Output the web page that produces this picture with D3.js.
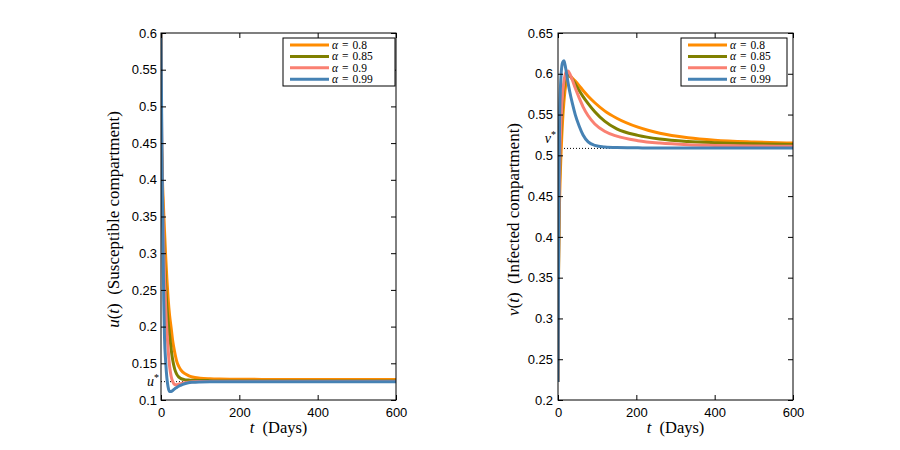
<!DOCTYPE html>
<html><head><meta charset="utf-8">
<script src="https://cdn.jsdelivr.net/npm/d3@7"></script>
<style>body{margin:0;background:#fff} svg{display:block}</style>
</head><body><svg id="c" width="900" height="450"></svg>
<script>
// ---------- data ----------
const alphaLabels = ["0.8", "0.85", "0.9", "0.99"];
const seriesColors = ["#ff8c00", "#808000", "#fa8072", "#4682b4"];
const xTicks = [0, 200, 400, 600];
const uTicks = [0.1, 0.15, 0.2, 0.25, 0.3, 0.35, 0.4, 0.45, 0.5, 0.55, 0.6];
const vTicks = [0.2, 0.25, 0.3, 0.35, 0.4, 0.45, 0.5, 0.55, 0.6, 0.65];
const uStar = 0.125;
const vStar = 0.5085;

// susceptible compartment u(t)
const tU = [0, 1, 2, 3, 4, 5, 7, 9, 12, 15, 18, 22, 26, 30, 35, 40, 45, 50, 60, 70, 80, 100, 125, 150, 200, 300, 400, 500, 600];
const uAlpha080 = [0.6, 0.46, 0.43, 0.41, 0.395, 0.38, 0.355, 0.33, 0.295, 0.265, 0.24, 0.215, 0.198, 0.18, 0.165, 0.153, 0.146, 0.1415, 0.1362, 0.1333, 0.1314, 0.1298, 0.129, 0.1286, 0.1283, 0.128, 0.1279, 0.1278, 0.1278];
const uAlpha085 = [0.6, 0.47, 0.43, 0.4, 0.375, 0.355, 0.32, 0.29, 0.255, 0.228, 0.208, 0.188, 0.169, 0.154, 0.142, 0.1352, 0.1315, 0.1295, 0.1278, 0.1272, 0.1268, 0.1265, 0.1264, 0.1263, 0.1263, 0.1262, 0.1262, 0.1262, 0.1262];
const uAlpha090 = [0.6, 0.5, 0.45, 0.41, 0.38, 0.355, 0.31, 0.27, 0.225, 0.195, 0.17, 0.146, 0.132, 0.125, 0.1212, 0.1208, 0.1215, 0.1222, 0.1235, 0.1243, 0.1248, 0.1252, 0.1254, 0.1255, 0.1256, 0.1256, 0.1256, 0.1256, 0.1256];
const uAlpha099 = [0.6, 0.53, 0.47, 0.41, 0.36, 0.32, 0.235, 0.185, 0.152, 0.13, 0.118, 0.1115, 0.1115, 0.113, 0.1152, 0.117, 0.1187, 0.12, 0.1222, 0.1235, 0.1241, 0.1246, 0.1248, 0.1248, 0.1248, 0.1248, 0.1248, 0.1248, 0.1248];

// infected compartment v(t)
const tV = [0, 1, 2, 3, 4, 6, 8, 10, 12, 15, 18, 22, 26, 30, 37, 44, 54, 64, 77, 94, 119, 150, 204, 260, 332, 400, 500, 600];
const vAlpha080 = [0.222, 0.33, 0.38, 0.42, 0.445, 0.48, 0.505, 0.527, 0.545, 0.565, 0.58, 0.592, 0.598, 0.5975, 0.5945, 0.591, 0.5855, 0.5795, 0.5725, 0.5645, 0.5545, 0.5455, 0.5345, 0.527, 0.5215, 0.5185, 0.5163, 0.515];
const vAlpha085 = [0.222, 0.34, 0.4, 0.44, 0.47, 0.51, 0.535, 0.553, 0.567, 0.583, 0.594, 0.6, 0.5995, 0.5975, 0.593, 0.5875, 0.5795, 0.572, 0.5635, 0.5535, 0.542, 0.5325, 0.5245, 0.52, 0.517, 0.5155, 0.5142, 0.5134];
const vAlpha090 = [0.222, 0.35, 0.41, 0.45, 0.48, 0.52, 0.545, 0.562, 0.575, 0.59, 0.598, 0.603, 0.6035, 0.6, 0.592, 0.5825, 0.5705, 0.5595, 0.5485, 0.5385, 0.5295, 0.5235, 0.518, 0.515, 0.513, 0.5122, 0.5115, 0.511];
const vAlpha099 = [0.222, 0.33, 0.42, 0.49, 0.54, 0.58, 0.6, 0.61, 0.614, 0.616, 0.611, 0.6, 0.588, 0.578, 0.563, 0.55, 0.536, 0.525, 0.5165, 0.5122, 0.5102, 0.5095, 0.5092, 0.509, 0.509, 0.509, 0.509, 0.509];

// ---------- drawing ----------
const svg = d3.select("#c");
svg.append("rect").attr("width", 900).attr("height", 450).attr("fill", "#fff");

const SANS = "'Liberation Sans', Arial, sans-serif";
const SERIF = "'Liberation Serif', 'Times New Roman', serif";

function panel(cfg) {
  const g = svg.append("g");
  const x = d3.scaleLinear().domain([0, 600]).range([cfg.x0, cfg.x1]);
  const y = d3.scaleLinear().domain(cfg.yDomain).range([cfg.y1, cfg.y0]);
  const clipId = "clip" + cfg.id;
  svg.append("clipPath").attr("id", clipId).append("rect")
    .attr("x", cfg.x0).attr("y", cfg.y0).attr("width", cfg.x1 - cfg.x0).attr("height", cfg.y1 - cfg.y0);

  // dotted equilibrium
  g.append("line").attr("x1", x(0)).attr("x2", x(600)).attr("y1", y(cfg.star)).attr("y2", y(cfg.star))
    .attr("stroke", "#000").attr("stroke-width", 1).attr("stroke-dasharray", "1,2");

  // curves
  const line = d3.line().x(d => x(d[0])).y(d => y(d[1])).curve(d3.curveMonotoneX);
  const lg = g.append("g").attr("clip-path", `url(#${clipId})`);
  cfg.series.forEach((vals, i) => {
    lg.append("path").datum(cfg.t.map((t, k) => [t, vals[k]]))
      .attr("d", line).attr("fill", "none").attr("stroke", seriesColors[i])
      .attr("stroke-width", 3).attr("stroke-linejoin", "round");
  });

  // axes
  const style = sel => {
    sel.selectAll("text").attr("font-family", SANS).attr("font-size", 13).attr("fill", "#000");
    sel.selectAll("line").attr("stroke", "#000");
    sel.select(".domain").remove();
  };
  const fmt = d3.format("");
  g.append("g").attr("transform", `translate(0,${cfg.y1})`)
    .call(d3.axisBottom(x).tickValues(xTicks).tickSize(-5).tickPadding(8).tickFormat(fmt)).call(style);
  g.append("g").attr("transform", `translate(0,${cfg.y0})`)
    .call(d3.axisTop(x).tickValues(xTicks).tickSize(-5).tickFormat("")).call(style);
  g.append("g").attr("transform", `translate(${cfg.x0},0)`)
    .call(d3.axisLeft(y).tickValues(cfg.yTicks).tickSize(-5).tickPadding(cfg.yPad).tickFormat(d => String(+d.toFixed(2)))).call(style);
  g.append("g").attr("transform", `translate(${cfg.x1},0)`)
    .call(d3.axisRight(y).tickValues(cfg.yTicks).tickSize(-5).tickFormat("")).call(style);
  g.append("rect").attr("x", cfg.x0).attr("y", cfg.y0).attr("width", cfg.x1 - cfg.x0).attr("height", cfg.y1 - cfg.y0)
    .attr("fill", "none").attr("stroke", "#000").attr("stroke-width", 1);

  // star label
  const st = g.append("text").attr("x", cfg.x0 - 2).attr("y", y(cfg.star) + cfg.starDy)
    .attr("text-anchor", "end").attr("font-family", SERIF).attr("font-size", 14);
  st.append("tspan").attr("font-style", "italic").text(cfg.starVar);
  st.append("tspan").attr("font-size", 10).attr("dy", -5).text("*");

  // x label
  const xl = g.append("text").attr("x", (cfg.x0 + cfg.x1) / 2).attr("y", 433)
    .attr("text-anchor", "middle").attr("font-family", SERIF).attr("font-size", 16.5).attr("xml:space", "preserve");
  xl.append("tspan").attr("font-style", "italic").text("t");
  xl.append("tspan").text("  (Days)");

  // y label
  const yl = g.append("text").attr("transform", `translate(${cfg.x0 - cfg.ylabOff},${(cfg.y0 + cfg.y1) / 2 + 3}) rotate(-90)`)
    .attr("text-anchor", "middle").attr("dy", "0.35em").attr("font-family", SERIF).attr("font-size", 17).attr("xml:space", "preserve");
  yl.append("tspan").attr("font-style", "italic").text(cfg.yVar);
  yl.append("tspan").text("(");
  yl.append("tspan").attr("font-style", "italic").text("t");
  yl.append("tspan").text(")  " + cfg.yText);

  // legend
  const L = cfg.legend;
  g.append("rect").attr("x", L.x).attr("y", L.y).attr("width", L.w).attr("height", 48)
    .attr("fill", "#fff").attr("stroke", "#000").attr("stroke-width", 1);
  alphaLabels.forEach((a, i) => {
    const ry = L.y + 7 + i * 11.4;
    g.append("line").attr("x1", L.x + 7).attr("x2", L.x + 46).attr("y1", ry).attr("y2", ry)
      .attr("stroke", seriesColors[i]).attr("stroke-width", 3);
    const tx = g.append("text").attr("x", L.x + 49).attr("y", ry + 4)
      .attr("font-family", SERIF).attr("font-size", 11.5);
    tx.append("tspan").attr("font-style", "italic").text("α");
    tx.append("tspan").attr("dx", 4).text("=");
    tx.append("tspan").attr("dx", 4).text(a);
  });
}

panel({
  id: "u", x0: 161, x1: 396, y0: 33, y1: 400, yDomain: [0.1, 0.6], yTicks: uTicks, yPad: 4,
  t: tU, series: [uAlpha080, uAlpha085, uAlpha090, uAlpha099],
  star: uStar, starVar: "u", starDy: 4, yVar: "u", yText: "(Susceptible compartment)", ylabOff: 48,
  legend: { x: 283, y: 38, w: 112 }
});
panel({
  id: "v", x0: 558, x1: 793, y0: 33, y1: 400, yDomain: [0.2, 0.65], yTicks: vTicks, yPad: 5,
  t: tV, series: [vAlpha080, vAlpha085, vAlpha090, vAlpha099],
  star: vStar, starVar: "v", starDy: -5, yVar: "v", yText: "(Infected compartment)", ylabOff: 45,
  legend: { x: 681, y: 38, w: 106 }
});
</script>
</body></html>
